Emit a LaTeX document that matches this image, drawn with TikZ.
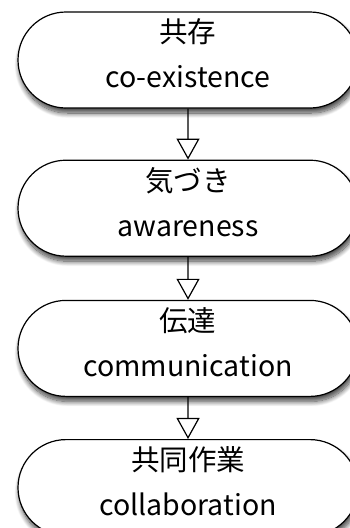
\documentclass[tikz,border=0pt]{standalone}
\usepackage{fontspec}
\newfontfamily\jpfont{Noto Sans CJK JP}
\usepackage{tikz}
\usetikzlibrary{shapes.misc,arrows.meta,positioning,shadows.blur}

\begin{document}
\begin{tikzpicture}[
    stage/.style={rounded rectangle, minimum width=340pt, minimum height=96pt, draw, line width=1.2pt, fill=white, align=center, inner sep=0pt, text depth=13pt,
        font={\jpfont\fontsize{28.5}{45}\selectfont},
        blur shadow={shadow xshift=1.5pt, shadow yshift=-5pt, shadow blur steps=12, shadow blur radius=5pt, shadow opacity=75}},
    flow/.style={-{Triangle[open, width=23pt, length=21pt, line width=1.2pt]}, line width=1.1pt}
]
\useasboundingbox (0,0) rectangle (350pt,-528pt);

% Stages
\node (coexist) [stage] at (188pt,-60pt) {共存\\co-existence};
\node (aware) [stage, below=51pt of coexist] {気づき\\awareness};
\node (comm) [stage, below=43pt of aware] {伝達\\communication};
\node (collab) [stage, below=42pt of comm] {共同作業\\collaboration};

% Flow
\draw[flow] (coexist) -- (aware);
\draw[flow] (aware) -- (comm);
\draw[flow] (comm) -- (collab);

\end{tikzpicture}
\end{document}
